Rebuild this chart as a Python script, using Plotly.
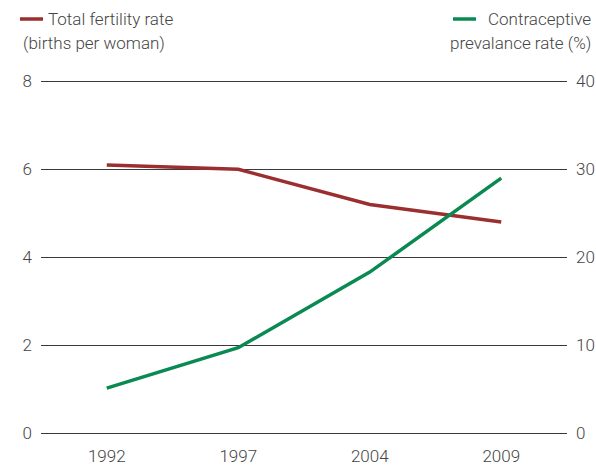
import plotly.graph_objects as go

years = ["1992", "1997", "2004", "2009"]
fertility = [6.1, 6.0, 5.2, 4.8]
contraceptive = [5.1, 9.7, 18.3, 29.0]
left_ticks = [0, 2, 4, 6, 8]
right_ticks = [0, 10, 20, 30, 40]

RED = "#9b2f2f"
GREEN = "#0a8a52"
TXT = "#454545"
FONT = "Roboto"
WEIGHT = 300

fig = go.Figure()
fig.add_trace(go.Scatter(x=years, y=fertility, mode="lines",
                         line=dict(color=RED, width=3.5), yaxis="y", showlegend=False))
fig.add_trace(go.Scatter(x=years, y=contraceptive, mode="lines",
                         line=dict(color=GREEN, width=3.5), yaxis="y2", showlegend=False))

L, R, T, B = 41, 29, 77, 32
W, H = 596, 465
pw, ph = W - L - R, H - T - B

def px(x):
    return (x - L) / pw

def py(y):
    return (H - B - y) / ph

tf = dict(size=17, color=TXT, family=FONT, weight=WEIGHT)

fig.update_layout(
    width=W, height=H,
    margin=dict(l=L, r=R, t=T, b=B, autoexpand=False),
    paper_bgcolor="white", plot_bgcolor="white",
    font=dict(family=FONT, size=17, color=TXT),
    xaxis=dict(type="category", range=[-0.5, 3.5], showgrid=False, zeroline=False,
               showline=False, ticks="", tickfont=tf, ticklabelstandoff=11, automargin=False),
    yaxis=dict(range=[0, 8.1], tickvals=left_ticks, showgrid=True, gridcolor="#3a3a3a",
               gridwidth=1, zeroline=True, zerolinecolor="#3a3a3a", zerolinewidth=1,
               showline=False, ticks="", tickfont=tf, ticklabelstandoff=8, automargin=False),
    yaxis2=dict(range=[0, 40.5], tickvals=right_ticks, overlaying="y", side="right",
                showgrid=False, zeroline=False, showline=False, ticks="",
                tickfont=tf, ticklabelstandoff=8, automargin=False),
)

# legend keys
fig.add_shape(type="line", xref="paper", yref="paper", x0=px(20), x1=px(43), y0=py(19), y1=py(19),
              line=dict(color=RED, width=3.5))
fig.add_shape(type="line", xref="paper", yref="paper", x0=px(453), x1=px(476), y0=py(19), y1=py(19),
              line=dict(color=GREEN, width=3.5))

ann = [
    dict(text="Total fertility rate", x=px(46), y=py(19), xanchor="left"),
    dict(text="(births per woman)", x=px(21), y=py(43), xanchor="left"),
    dict(text="Contraceptive", x=px(593), y=py(19), xanchor="right"),
    dict(text="prevalance rate (%)", x=px(593), y=py(43), xanchor="right"),
]
for a in ann:
    fig.add_annotation(xref="paper", yref="paper", yanchor="middle", showarrow=False,
                       font=tf, **a)

fig.write_html("out.html", config={"displayModeBar": False},
               post_script="document.body.style.margin='0';")
